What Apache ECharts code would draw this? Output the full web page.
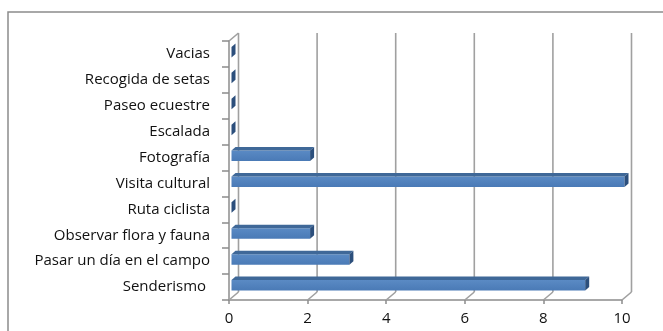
<!DOCTYPE html>
<html><head><meta charset="utf-8">
<script src="https://cdn.jsdelivr.net/npm/echarts@6/dist/echarts.min.js"></script>
<style>html,body{margin:0;padding:0;background:#fff}#c{width:663px;height:331px}</style>
</head><body><div id="c"></div>
<script>
const categories = ['Senderismo ', 'Pasar un día en el campo', 'Observar flora y fauna', 'Ruta ciclista', 'Visita cultural', 'Fotografía', 'Escalada', 'Paseo ecuestre', 'Recogida de setas', 'Vacias'];
const values = [9, 3, 2, 0, 10, 2, 0, 0, 0, 0];
const xTicks = [0, 2, 4, 6, 8, 10];

const DX = 9.5, DY = -8;
const FONT = 'Open Sans';
const chart = echarts.init(document.getElementById('c'), null, {renderer: 'canvas'});

const barData = values.map((v, i) => [v, i]);
const tickData = xTicks.map(t => [t, 0]);

chart.setOption({
  animation: false,
  backgroundColor: '#fff',
  graphic: [{
    type: 'rect', shape: {x: 8, y: 12, width: 700, height: 360},
    style: {fill: 'none', stroke: '#8c8c8c', lineWidth: 1.5}, z: -10
  }],
  grid: {left: 229, right: 41, top: 41, bottom: 31},
  xAxis: {
    type: 'value', min: 0, max: 10, interval: 2,
    axisLine: {show: true, lineStyle: {color: '#8c8c8c', width: 1.5}},
    axisTick: {show: true, length: 4, lineStyle: {color: '#8c8c8c', width: 1.5}},
    splitLine: {show: false},
    axisLabel: {color: '#111', fontFamily: FONT, fontSize: 15, margin: 11}
  },
  yAxis: {
    type: 'category', data: categories,
    axisLine: {show: true, lineStyle: {color: '#8c8c8c', width: 1.5}},
    axisTick: {show: true, length: 7, lineStyle: {color: '#8c8c8c', width: 1.5}},
    axisLabel: {color: '#111', fontFamily: FONT, fontSize: 15, margin: 19}
  },
  series: [{
    type: 'custom', clip: false, z: 1,
    data: tickData,
    renderItem: function (params, api) {
      const cs = params.coordSys;
      const top = cs.y, bottom = cs.y + cs.height;
      const t = api.value(0);
      const x = api.coord([t, 0])[0];
      const st = {stroke: '#a0a0a0', lineWidth: 1.6, fill: 'none'};
      const ch = [
        {type: 'line', shape: {x1: x + DX, y1: top + DY, x2: x + DX, y2: bottom + DY}, style: st},
        {type: 'line', shape: {x1: x, y1: bottom, x2: x + DX, y2: bottom + DY}, style: st}
      ];
      if (t === 0) {
        ch.push({type: 'line', shape: {x1: x, y1: top, x2: x + DX, y2: top + DY}, style: st});
      }
      return {type: 'group', children: ch};
    }
  }, {
    type: 'custom', clip: false, z: 3,
    data: barData,
    renderItem: function (params, api) {
      const v = api.value(0), i = api.value(1);
      const p0 = api.coord([0, i]), p1 = api.coord([v, i]);
      const cy = p0[1];
      const x0 = p0[0] + 2.5, x1 = p1[0] + 2.5;
      const yT = cy - 7, yB = cy + 3.5;
      const dx = 4, dy = -3.5;
      return {type: 'group', children: [
        {type: 'rect', shape: {x: x0, y: yT, width: x1 - x0, height: yB - yT},
          style: {fill: new echarts.graphic.LinearGradient(0, 0, 0, 1, [{offset: 0, color: '#5a8ac4'}, {offset: 1, color: '#4a7ab6'}])}},
        {type: 'polygon', shape: {points: [[x0, yT], [x1, yT], [x1 + dx, yT + dy], [x0 + dx, yT + dy]]},
          style: {fill: '#3f6898'}},
        {type: 'polygon', shape: {points: [[x1, yT], [x1 + dx, yT + dy], [x1 + dx, yB + dy], [x1, yB]]},
          style: {fill: '#2c4f7c'}}
      ]};
    }
  }]
});
</script></body></html>
